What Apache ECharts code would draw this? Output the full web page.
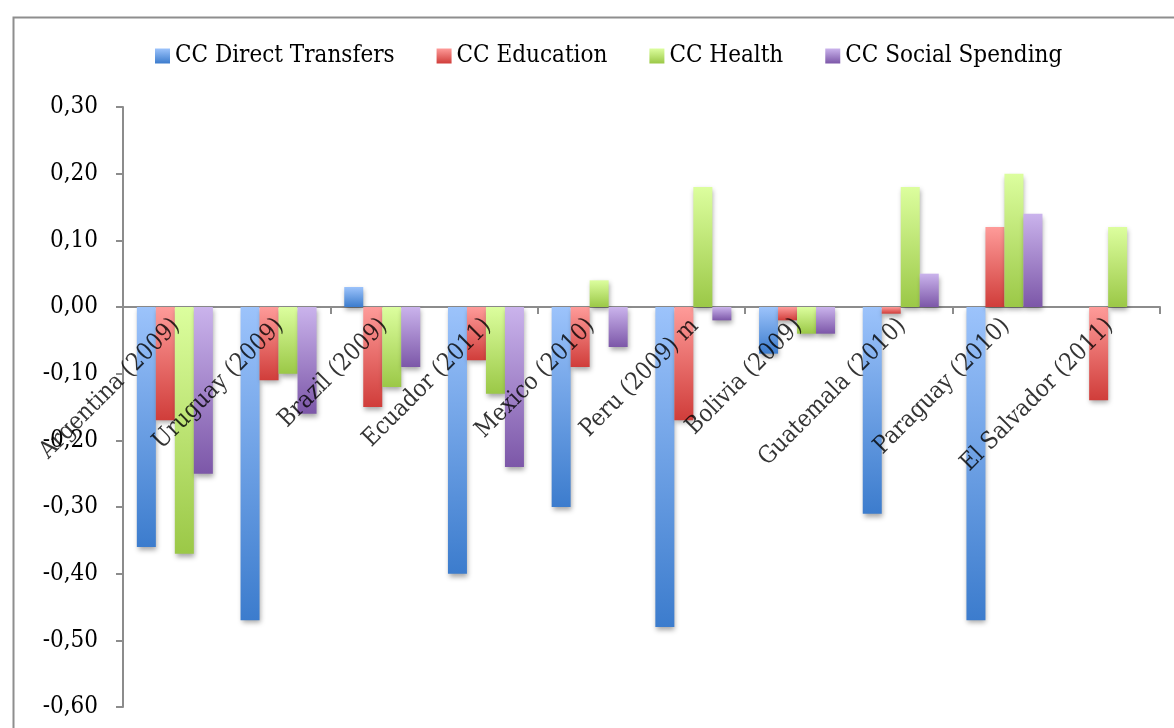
<!DOCTYPE html>
<html>
<head>
<meta charset="utf-8">
<title>Conditional cash transfers by country</title>
<script src="https://cdn.jsdelivr.net/npm/echarts@6/dist/echarts.min.js"></script>
<style>
  html, body { margin: 0; padding: 0; background: #ffffff; }
  #chart { width: 1174px; height: 728px; }
</style>
</head>
<body>
<div id="chart"></div>
<script>
// Countries (survey year)
const categories = [
  'Argentina (2009)', 'Uruguay (2009)', 'Brazil (2009)', 'Ecuador (2011)',
  'Mexico (2010)', 'Peru (2009) m', 'Bolivia (2009)', 'Guatemala (2010)',
  'Paraguay (2010)', 'El Salvador (2011)'
];

const seriesNames = ['CC Direct Transfers', 'CC Education', 'CC Health', 'CC Social Spending'];

const directTransfers = [-0.36, -0.47, 0.03, -0.40, -0.30, -0.48, -0.07, -0.31, -0.47, null];
const education       = [-0.17, -0.11, -0.15, -0.08, -0.09, -0.17, -0.02, -0.01, 0.12, -0.14];
const health          = [-0.37, -0.10, -0.12, -0.13, 0.04, 0.18, -0.04, 0.18, 0.20, 0.12];
const socialSpending  = [-0.25, -0.16, -0.09, -0.24, -0.06, -0.02, -0.04, 0.05, 0.14, null];

// Value axis range and step
const yMin = -0.6;
const yMax = 0.3;
const yStep = 0.1;

const FONT = '"DejaVu Serif Condensed", "Liberation Serif", serif';
const FONT_SIZE = 24;

// Light-to-dark vertical fill for each series
const palette = [
  ['#9cc3fb', '#3c7ccd'],
  ['#fe9b99', '#d03d3a'],
  ['#dcfe9e', '#9bc847'],
  ['#cab3ec', '#7c57a8']
];

function fill(pair) {
  return new echarts.graphic.LinearGradient(0, 0, 0, 1, [
    { offset: 0, color: pair[0] },
    { offset: 1, color: pair[1] }
  ]);
}

function fmt(v) {
  const r = Math.round(v * 100) / 100;
  return (r === 0 ? 0 : r).toFixed(2).replace('.', ',');
}

const dataSets = [directTransfers, education, health, socialSpending];

const barSeries = dataSets.map((values, i) => ({
  name: seriesNames[i],
  type: 'bar',
  data: values,
  barWidth: 19,
  barGap: '0%',
  itemStyle: {
    color: fill(palette[i]),
    shadowColor: 'rgba(0,0,0,0.35)',
    shadowBlur: 5,
    shadowOffsetX: 1,
    shadowOffsetY: 3
  }
}));

// Category names hang from the zero line, slanted, over the bars
const nameSeries = {
  name: 'categoryNames',
  type: 'scatter',
  data: categories.map(c => [c, 0]),
  symbol: 'rect',
  symbolSize: 1,
  itemStyle: { color: 'rgba(0,0,0,0)' },
  silent: true,
  z: 10,
  label: {
    show: true,
    position: [2, 16],
    rotate: 45,
    align: 'right',
    verticalAlign: 'middle',
    fontFamily: FONT,
    fontSize: FONT_SIZE,
    color: '#000000',
    formatter: p => categories[p.dataIndex]
  }
};

const chart = echarts.init(document.getElementById('chart'), null, { renderer: 'canvas' });

chart.setOption({
  animation: false,
  backgroundColor: '#ffffff',
  graphic: [{
    type: 'rect',
    left: 11,
    top: 15,
    shape: { width: 1300, height: 900 },
    style: { fill: 'none', stroke: '#8e8e8e', lineWidth: 2 },
    silent: true,
    z: -10
  }],
  legend: {
    left: 150,
    top: 39,
    itemWidth: 15,
    itemHeight: 15,
    itemGap: 42,
    icon: 'rect',
    textStyle: { fontFamily: FONT, fontSize: FONT_SIZE, color: '#000000' },
    data: seriesNames
  },
  grid: {
    left: 123,
    right: 14,
    top: 107,
    bottom: 21,
    containLabel: false,
    outerBoundsMode: 'none'
  },
  xAxis: {
    type: 'category',
    data: categories,
    boundaryGap: true,
    axisLine: { onZero: true, lineStyle: { color: '#8c8c8c', width: 2 } },
    axisTick: { show: true, length: 7, lineStyle: { color: '#8c8c8c', width: 2 } },
    axisLabel: { show: false },
    splitLine: { show: false }
  },
  yAxis: {
    type: 'value',
    min: yMin,
    max: yMax,
    interval: yStep,
    axisLine: { show: true, lineStyle: { color: '#8c8c8c', width: 2 } },
    axisTick: { show: true, length: 7, lineStyle: { color: '#8c8c8c', width: 2 } },
    axisLabel: {
      margin: 25,
      fontFamily: FONT,
      fontSize: FONT_SIZE,
      color: '#000000',
      formatter: fmt
    },
    splitLine: { show: false }
  },
  series: barSeries.concat([nameSeries])
});
</script>
</body>
</html>
